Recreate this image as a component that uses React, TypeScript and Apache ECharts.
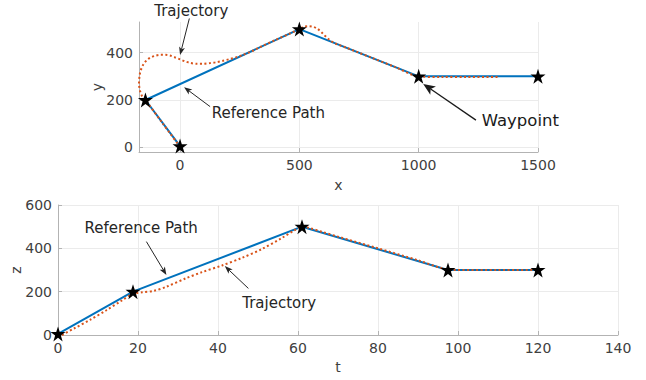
import React, { useEffect, useRef } from "react";
import * as echarts from "echarts";

// ---------- data ----------
const topWaypoints: [number, number][] = [
  [0, 5], [-145, 200], [500, 500], [1000, 300], [1500, 300],
];
const topReference: [number, number][] = [
  [0, 5], [-145, 200], [500, 500], [1000, 300], [1500, 300],
];
const topTrajectory: [number, number][] = [
  [0, 2], [-72, 100], [-145, 200], [-160, 218], [-168, 240], [-172, 270],
  [-170, 300], [-165, 325], [-153, 352], [-140, 368], [-125, 379], [-105, 387],
  [-83, 391], [-62, 391], [-42, 388], [-20, 380], [0, 372], [20, 364],
  [42, 357], [70, 353], [97, 353], [125, 356], [153, 360], [180, 366],
  [208, 373], [236, 381], [264, 391], [300, 406], [333, 423], [400, 454],
  [460, 481], [500, 500], [515, 508], [535, 512], [555, 510], [575, 502],
  [597, 482], [625, 455], [653, 438], [700, 420], [750, 400], [800, 380],
  [900, 340], [1000, 300], [1100, 297], [1200, 297], [1335, 297],
];
const topXTicks = [0, 500, 1000, 1500];
const topYTicks = [0, 200, 400];

const bottomWaypoints: [number, number][] = [
  [0, 5], [18.75, 200], [61, 500], [97.5, 300], [120, 300],
];
const bottomReference: [number, number][] = [
  [0, 5], [18.75, 200], [61, 500], [97.5, 300], [120, 300],
];
const bottomTrajectory: [number, number][] = [
  [1, 0], [4, 30], [8, 70], [12, 113], [16, 160], [18.75, 190], [21, 197],
  [24, 204], [27, 222], [32, 262], [36, 290], [41, 321], [46, 356],
  [51, 397], [56, 448], [59, 482], [61, 500], [63, 493], [66, 476],
  [70, 454], [80, 400], [90, 345], [97.5, 302], [100, 300], [110, 300], [120, 300],
];

// annotation text and arrow anchors (in data units of each panel)
const annotations = [
  { grid: 0, text: "Trajectory", at: [47, 576], from: [39, 545], to: [0, 390], big: false },
  { grid: 0, text: "Reference Path", at: [370, 145], from: [126, 172], to: [17, 254], big: false },
  { grid: 0, text: "Waypoint", at: [1426, 115], from: [1240, 115], to: [1019, 268], big: true },
  { grid: 1, text: "Reference Path", at: [20.8, 494], from: [22.1, 431], to: [27.1, 277], big: false },
  { grid: 1, text: "Trajectory", at: [55.3, 150], from: [47.6, 215], to: [41.7, 318], big: false },
];

// ---------- styles ----------
const BLUE = "#0072BD";
const ORANGE = "#D95319";
const FONT = "DejaVu Sans";
const AXIS_COLOR = "#b3b3b3";
const GRID_COLOR = "#ebebeb";
const LABEL_COLOR = "#404040";
const STAR =
  "path://M50,0 L61.8,35.1 L100,35.1 L69.1,57.8 L80.9,95.1 L50,72.4 L19.1,95.1 L30.9,57.8 L0,35.1 L38.2,35.1 Z";

function axisCommon(name: string, nameGap: number) {
  return {
    type: "value" as const,
    name,
    nameLocation: "middle" as const,
    nameGap,
    nameMoveOverlap: false,
    nameTextStyle: { fontFamily: FONT, fontSize: 14, color: LABEL_COLOR },
    axisLine: { show: true, onZero: false, lineStyle: { color: AXIS_COLOR, width: 1 } },
    axisTick: { show: true, inside: true, length: 4, lineStyle: { color: AXIS_COLOR } },
    axisLabel: {
      fontFamily: FONT, fontSize: 14, color: LABEL_COLOR, margin: 6,
      formatter: (v: number) => String(v),
    },
    splitLine: { show: true, lineStyle: { color: GRID_COLOR, width: 1 } },
  };
}

export default function App() {
  const ref = useRef<HTMLDivElement>(null);

  useEffect(() => {
    if (!ref.current) return;
    const chart = echarts.init(ref.current, null, { renderer: "svg" });

    const topX = axisCommon("x", 26);
    const topY = axisCommon("y", 35);
    const botX = axisCommon("t", 25);
    const botY = axisCommon("z", 35);

    const starStyle = { color: "#000000", opacity: 1 };

    const option: any = {
      animation: false,
      backgroundColor: "#ffffff",
      grid: [
        { left: 139, right: 108, top: 22, bottom: 228, outerBoundsMode: "none", containLabel: false },
        { left: 58, right: 28, top: 205, bottom: 45, outerBoundsMode: "none", containLabel: false },
      ],
      xAxis: [
        {
          ...topX,
          gridIndex: 0,
          min: -172,
          max: 1500,
          axisTick: { ...topX.axisTick, customValues: topXTicks },
          axisLabel: { ...topX.axisLabel, customValues: topXTicks },
        },
        { ...botX, gridIndex: 1, min: 0, max: 140, interval: 20 },
      ],
      yAxis: [
        {
          ...topY,
          gridIndex: 0,
          min: -20,
          max: 530,
          axisTick: { ...topY.axisTick, customValues: topYTicks },
          axisLabel: { ...topY.axisLabel, customValues: topYTicks },
        },
        { ...botY, gridIndex: 1, min: 0, max: 600, interval: 200 },
      ],
      series: [
        {
          type: "line", xAxisIndex: 0, yAxisIndex: 0, data: topReference,
          showSymbol: false, symbol: "none", z: 2,
          lineStyle: { color: BLUE, width: 2 },
        },
        {
          type: "line", xAxisIndex: 0, yAxisIndex: 0, data: topTrajectory,
          showSymbol: false, symbol: "none", smooth: 0.3, z: 3,
          lineStyle: { color: ORANGE, width: 2, type: [2, 2.5] },
        },
        {
          type: "scatter", xAxisIndex: 0, yAxisIndex: 0, data: topWaypoints,
          symbol: STAR, symbolSize: 15, clip: false, z: 4,
          itemStyle: starStyle,
        },
        {
          type: "line", xAxisIndex: 1, yAxisIndex: 1, data: bottomReference,
          showSymbol: false, symbol: "none", z: 2,
          lineStyle: { color: BLUE, width: 2 },
        },
        {
          type: "line", xAxisIndex: 1, yAxisIndex: 1, data: bottomTrajectory,
          showSymbol: false, symbol: "none", smooth: 0.3, z: 3,
          lineStyle: { color: ORANGE, width: 2, type: [2, 2.5] },
        },
        {
          type: "scatter", xAxisIndex: 1, yAxisIndex: 1, data: bottomWaypoints,
          symbol: STAR, symbolSize: 15, clip: false, z: 4,
          itemStyle: starStyle,
        },
      ],
    };
    chart.setOption(option);

    const graphic: any[] = [];
    annotations.forEach((a) => {
      const p = chart.convertToPixel({ gridIndex: a.grid } as any, a.at) as number[];
      const f = chart.convertToPixel({ gridIndex: a.grid } as any, a.from) as number[];
      const t = chart.convertToPixel({ gridIndex: a.grid } as any, a.to) as number[];
      const dx = t[0] - f[0];
      const dy = t[1] - f[1];
      const len = Math.sqrt(dx * dx + dy * dy) || 1;
      const ux = dx / len;
      const uy = dy / len;
      const L = a.big ? 12 : 8;
      const W = a.big ? 10 : 6;
      const bx = t[0] - ux * L;
      const by = t[1] - uy * L;
      const nx = -uy;
      const ny = ux;
      const notchX = t[0] - ux * L * 0.75;
      const notchY = t[1] - uy * L * 0.75;
      const col = a.big ? "#1a1a1a" : "#262626";
      graphic.push({
        type: "line",
        shape: { x1: f[0], y1: f[1], x2: notchX, y2: notchY },
        style: { stroke: col, lineWidth: a.big ? 1.3 : 1 },
        z: 10,
      });
      graphic.push({
        type: "polygon",
        shape: {
          points: [
            [t[0], t[1]],
            [bx + (nx * W) / 2, by + (ny * W) / 2],
            [notchX, notchY],
            [bx - (nx * W) / 2, by - (ny * W) / 2],
          ],
        },
        style: { fill: col },
        z: 10,
      });
      graphic.push({
        type: "text",
        x: p[0],
        y: p[1],
        style: {
          text: a.text,
          fontFamily: FONT,
          fontSize: a.big ? 16.5 : 15,
          fill: col,
          align: "center",
          verticalAlign: "middle",
        },
        z: 10,
      });
    });
    chart.setOption({ graphic });

    return () => chart.dispose();
  }, []);

  return (
    <div
      ref={ref}
      style={{ position: "fixed", left: 0, top: 0, width: 646, height: 380, background: "#fff" }}
    />
  );
}
